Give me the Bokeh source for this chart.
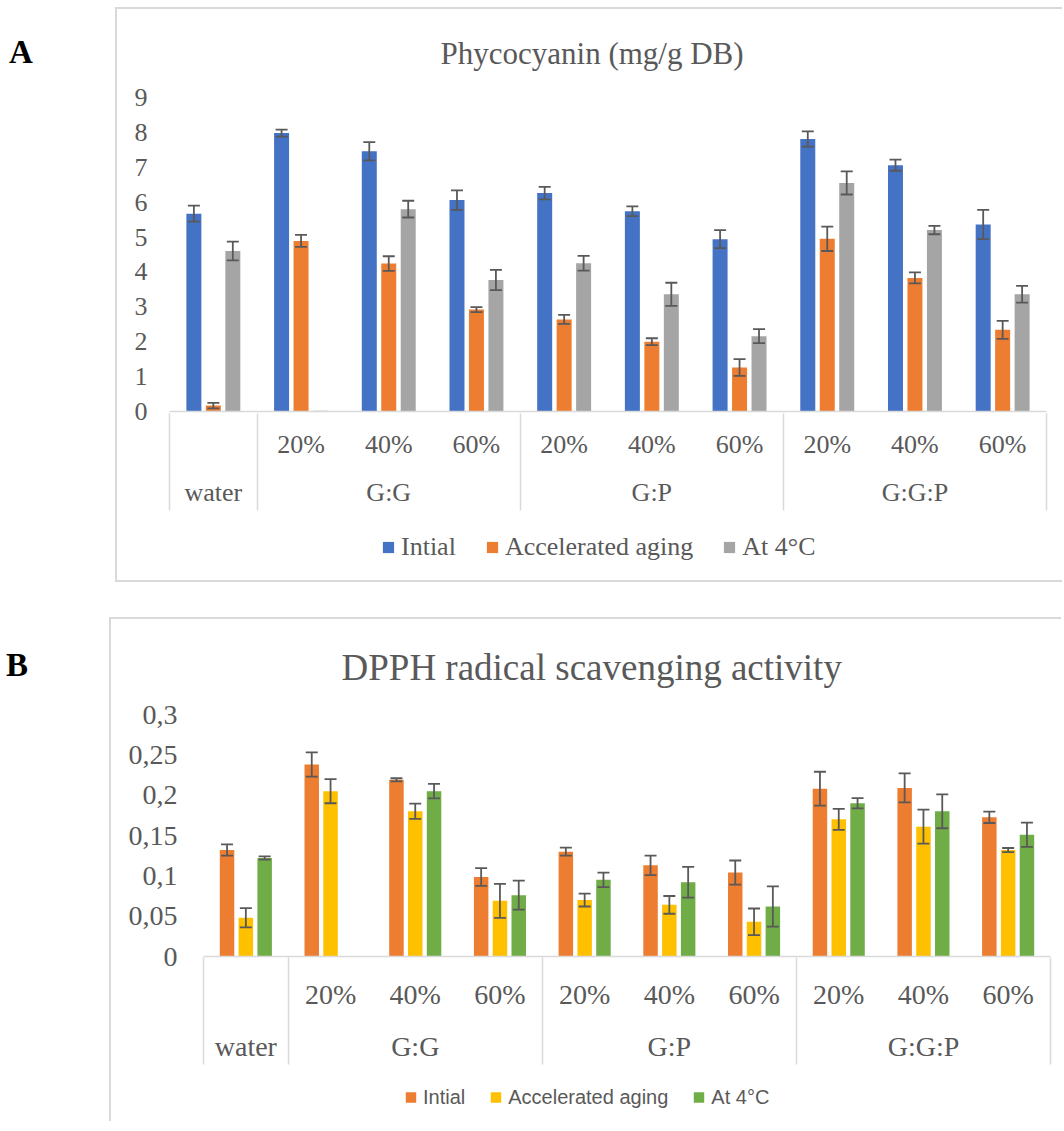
from bokeh.plotting import figure
from bokeh.models import (Range1d, LinearAxis, FixedTicker, Whisker, TeeHead,
                          ColumnDataSource, Legend, LegendItem, Div, Spacer)
from bokeh.layouts import column, row
from bokeh.transform import dodge
from bokeh.embed import file_html
from bokeh.resources import INLINE

# ---------------- data ----------------
groups = ["water", "G:G", "G:P", "G:G:P"]
concentrations = ["20%", "40%", "60%"]
series_names = ["Intial", "Accelerated aging", "At 4°C"]

# Panel A : Phycocyanin (mg/g DB)
initial_A = [5.67, 7.98, 7.46, 6.06, 6.26, 5.74, 4.94, 7.81, 7.06, 5.36]
initial_A_err = [0.23, 0.10, 0.26, 0.28, 0.18, 0.14, 0.26, 0.22, 0.16, 0.42]
accel_A = [0.17, 4.89, 4.24, 2.92, 2.64, 2.00, 1.26, 4.95, 3.83, 2.34]
accel_A_err = [0.08, 0.17, 0.21, 0.07, 0.13, 0.10, 0.24, 0.35, 0.16, 0.26]
cold_A = [4.60, 0.02, 5.80, 3.77, 4.25, 3.36, 2.16, 6.55, 5.20, 3.36]
cold_A_err = [0.27, 0.0, 0.24, 0.29, 0.21, 0.33, 0.20, 0.33, 0.12, 0.24]
ticks_A = [0, 1, 2, 3, 4, 5, 6, 7, 8, 9]
tick_labels_A = ["0", "1", "2", "3", "4", "5", "6", "7", "8", "9"]

# Panel B : DPPH radical scavenging activity
initial_B = [0.132, 0.238, 0.219, 0.0985, 0.130, 0.113, 0.104, 0.208, 0.209, 0.1725]
initial_B_err = [0.007, 0.015, 0.002, 0.011, 0.005, 0.012, 0.015, 0.021, 0.018, 0.007]
accel_B = [0.048, 0.205, 0.180, 0.069, 0.070, 0.064, 0.043, 0.170, 0.161, 0.132]
accel_B_err = [0.012, 0.015, 0.0095, 0.021, 0.008, 0.011, 0.0165, 0.013, 0.021, 0.0025]
cold_B = [0.122, 0.0, 0.205, 0.076, 0.095, 0.092, 0.062, 0.190, 0.180, 0.151]
cold_B_err = [0.002, 0.0, 0.009, 0.018, 0.009, 0.019, 0.025, 0.0064, 0.021, 0.015]
ticks_B = [0, 0.05, 0.1, 0.15, 0.2, 0.25, 0.3]
tick_labels_B = ["0", "0,05", "0,1", "0,15", "0,2", "0,25", "0,3"]

colors_A = ["#4472C4", "#ED7D31", "#A5A5A5"]
colors_B = ["#ED7D31", "#FFC000", "#70AD47"]

# category structure: water alone, then three concentrations per blend
factors = [("water", "")] + [(g, c) for g in groups[1:] for c in concentrations]
centers = [i + 0.5 for i in range(len(factors))]
group_sizes = [1] + [len(concentrations)] * (len(groups) - 1)
boundaries = [0]
for s in group_sizes:
    boundaries.append(boundaries[-1] + s)
group_centers = [(boundaries[i] + boundaries[i + 1]) / 2 for i in range(len(groups))]
sub_ticks = [centers[i] for i, f in enumerate(factors) if f[1]]
sub_labels = [f[1] for f in factors if f[1]]

TEXT = "#595959"
LINE = "#d9d9d9"
SERIF = "Liberation Serif"
BORDER = "2px solid #d9d9d9"


def make_chart(title, vals, errs, colors, ticks, tick_labels, y_max, g):
    p = figure(
        x_range=Range1d(boundaries[0], boundaries[-1]),
        y_range=Range1d(0, y_max),
        width=g["w"], height=g["h"], output_backend="svg", toolbar_location=None,
        min_border_left=g["bl"], min_border_right=g["br"],
        min_border_top=g["bt"], min_border_bottom=g["bb"],
        x_axis_location=None,
    )
    p.outline_line_color = None
    p.xgrid.grid_line_color = None
    p.ygrid.grid_line_color = None
    p.styles = g["styles"]

    p.title.text = title
    p.title.text_font = SERIF
    p.title.text_font_size = g["title_size"]
    p.title.text_font_style = "normal"
    p.title.text_color = TEXT
    p.title.align = "left"
    p.title.vertical_align = "top"
    p.title.offset = g["title_offset"]
    p.title.standoff = g["title_standoff"]

    ya = p.yaxis[0]
    ya.ticker = FixedTicker(ticks=ticks)
    ya.major_label_overrides = dict(zip(ticks, tick_labels))
    ya.axis_line_color = None
    ya.major_tick_line_color = None
    ya.minor_tick_line_color = None
    ya.major_tick_in = 0
    ya.major_tick_out = 0
    ya.major_label_standoff = g["y_standoff"]
    ya.major_label_text_font = SERIF
    ya.major_label_text_font_size = g["y_size"]
    ya.major_label_text_color = TEXT

    # inner category row (concentrations) with the baseline
    ax1 = LinearAxis(ticker=FixedTicker(ticks=sub_ticks),
                     major_label_overrides=dict(zip(sub_ticks, sub_labels)),
                     axis_line_color=LINE, axis_line_width=1.5,
                     major_tick_line_color=None, minor_tick_line_color=None,
                     major_tick_in=0, major_tick_out=0,
                     major_label_standoff=g["s1"], major_label_text_font=SERIF,
                     major_label_text_font_size=g["x_size"], major_label_text_color=TEXT)
    # outer category row (blends)
    ax2 = LinearAxis(ticker=FixedTicker(ticks=group_centers),
                     major_label_overrides=dict(zip(group_centers, groups)),
                     axis_line_color=None,
                     major_tick_line_color=None, minor_tick_line_color=None,
                     major_tick_in=0, major_tick_out=0,
                     major_label_standoff=g["s2"], major_label_text_font=SERIF,
                     major_label_text_font_size=g["x_size"], major_label_text_color=TEXT)
    # group separators
    ax3 = LinearAxis(ticker=FixedTicker(ticks=boundaries),
                     major_label_overrides={b: " " for b in boundaries},
                     axis_line_color=None, major_tick_line_color=LINE, major_tick_line_width=1.5,
                     minor_tick_line_color=None, major_tick_in=g["sep_in"], major_tick_out=g["sep_out"],
                     major_label_standoff=0, major_label_text_font_size="1px")
    p.add_layout(ax1, "below")
    p.add_layout(ax2, "below")
    p.add_layout(ax3, "below")

    offsets = [-0.222, 0.0, 0.222]
    for i in range(3):
        src = ColumnDataSource(dict(x=centers, top=vals[i]))
        p.vbar(x=dodge("x", offsets[i]), top="top", width=0.171,
               source=src, fill_color=colors[i], line_color=None)
        keep = [k for k in range(len(centers)) if errs[i][k] > 0]
        esrc = ColumnDataSource(dict(
            x=[centers[k] for k in keep],
            upper=[vals[i][k] + errs[i][k] for k in keep],
            lower=[vals[i][k] - errs[i][k] for k in keep]))
        w = Whisker(source=esrc, base=dodge("x", offsets[i]), level="overlay",
                    upper="upper", lower="lower", line_color="#595959", line_width=1.8,
                    upper_head=TeeHead(size=12, line_color="#595959", line_width=1.8),
                    lower_head=TeeHead(size=12, line_color="#595959", line_width=1.8))
        p.add_layout(w)
    return p


def make_legend(colors, g):
    # separate strip (inside the same bordered box) that only carries the legend
    q = figure(width=g["w"], height=g["lh"], output_backend="svg", toolbar_location=None,
               x_range=Range1d(0, 1), y_range=Range1d(0, 1), min_border=0,
               x_axis_location=None, y_axis_location=None)
    q.outline_line_color = None
    q.grid.visible = False
    q.styles = g["leg_styles"]
    items = []
    for i in range(3):
        # zero-height proxy outside the strip's range: only supplies the legend swatch
        r = q.vbar(x=[-1], top=[0], width=0.1, fill_color=colors[i], line_color=None)
        items.append(LegendItem(label=series_names[i], renderers=[r]))
    leg = Legend(items=items, orientation="horizontal", location="left", margin=g["lm"],
                 border_line_color=None, background_fill_alpha=0, padding=0,
                 glyph_width=g["glyph"], glyph_height=g["glyph"], label_standoff=6,
                 spacing=g["leg_spacing"], label_text_font=g["leg_font"],
                 label_text_font_size=g["leg_size"], label_text_color=TEXT)
    q.add_layout(leg)
    return q


geo_A = dict(w=947, h=505, bl=52, br=18, bt=88, bb=103,
             styles={"border-left": BORDER, "border-top": BORDER},
             title_size="31px", title_offset=271, title_standoff=50,
             y_standoff=22, y_size="26px", x_size="26px", s1=18, s2=16,
             sep_in=96, sep_out=1,
             lh=70, lm=212, leg_styles={"border-left": BORDER, "border-bottom": BORDER},
             glyph=14, leg_spacing=29, leg_font=SERIF, leg_size="26px")

geo_B = dict(w=952, h=455, bl=92, br=13, bt=95, bb=118,
             styles={"border-left": BORDER, "border-top": BORDER},
             title_size="37px", title_offset=138, title_standoff=50,
             y_standoff=26, y_size="28px", x_size="28px", s1=22, s2=18,
             sep_in=107, sep_out=0,
             lh=49, lm=201, leg_styles={"border-left": BORDER},
             glyph=13, leg_spacing=24, leg_font="Liberation Sans", leg_size="20px")

pA = make_chart("Phycocyanin (mg/g DB)", [initial_A, accel_A, cold_A],
                [initial_A_err, accel_A_err, cold_A_err], colors_A, ticks_A, tick_labels_A, 9, geo_A)
lA = make_legend(colors_A, geo_A)
pB = make_chart("DPPH radical scavenging activity", [initial_B, accel_B, cold_B],
                [initial_B_err, accel_B_err, cold_B_err], colors_B, ticks_B, tick_labels_B, 0.3, geo_B)
lB = make_legend(colors_B, geo_B)

divA = Div(text="<div style=\"font-family:'Liberation Serif';font-weight:bold;font-size:33px;"
                "line-height:33px;margin:24px 0 0 4px;color:#000\">A</div>", width=105, height=100)
divB = Div(text="<div style=\"font-family:'Liberation Serif';font-weight:bold;font-size:33px;"
                "line-height:33px;margin:27px 0 0 1px;color:#000\">B</div>", width=99, height=100)

layout = column(Spacer(height=7),
                row(divA, column(pA, lA, spacing=0)),
                Spacer(height=35),
                row(divB, column(pB, lB, spacing=0)),
                spacing=0)
open("out.html", "w").write(file_html(layout, INLINE))
